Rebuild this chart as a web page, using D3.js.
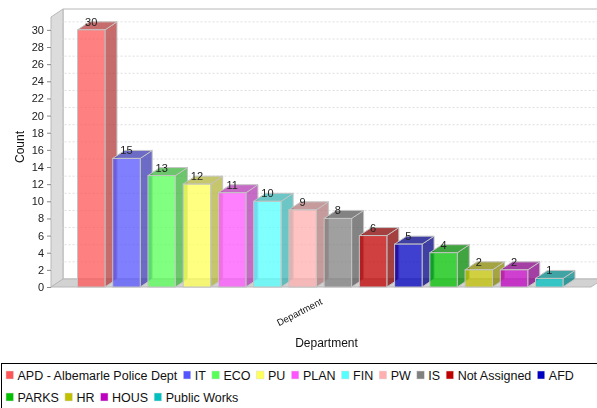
<!DOCTYPE html>
<html>
<head>
<meta charset="utf-8">
<script src="https://cdn.jsdelivr.net/npm/d3@7"></script>
<style>
  html, body { margin: 0; padding: 0; background: white; overflow: hidden; }
  svg { display: block; font-family: "Liberation Sans", Arial, sans-serif; filter: blur(0.45px); }
</style>
</head>
<body>
<script>
let departments = ["APD - Albemarle Police Dept", "IT", "ECO", "PU", "PLAN", "FIN", "PW", "IS", "Not Assigned", "AFD", "PARKS", "HR", "HOUS", "Public Works"]
let counts = [30, 15, 13, 12, 11, 10, 9, 8, 6, 5, 4, 2, 2, 1]
let colors = ["#ff5555", "#5555ff", "#55ff55", "#ffff55", "#ff55ff", "#55ffff", "#ffafaf", "#808080", "#c00000", "#0000c0", "#00c000", "#c0c000", "#c000c0", "#00c0c0"]
let yTicks = d3.range(0, 31, 2)

let width = 597
let height = 408

// 3d offset of the back wall
let depthX = 12
let depthY = 8
let plotLeft = 51
let plotRight = 591
let plotBottom = 287
let plotTop = 17

let svg = d3.select('body')
  .append('svg')
  .attr('width', width)
  .attr('height', height)

let scaleX = d3.scaleBand()
  .domain(departments)
  .range([77.5, 563])
  .paddingInner(0.22)
  .paddingOuter(0)

let scaleY = d3.scaleLinear()
  .domain([0, 31.5])
  .range([plotBottom, plotTop])

function poly(points) {
  return points.map(p => p.join(',')).join(' ')
}

function darker(c) {
  let rgb = d3.rgb(c)
  return d3.rgb(rgb.r * 0.7, rgb.g * 0.7, rgb.b * 0.7).formatHex()
}

// walls
svg.append('polygon')
  .attr('points', poly([[plotLeft + depthX, plotTop - depthY], [plotRight + depthX, plotTop - depthY], [plotRight + depthX, plotBottom - depthY], [plotLeft + depthX, plotBottom - depthY]]))
  .attr('fill', 'white')
  .attr('stroke', '#b8b8b8')

svg.append('polygon')
  .attr('points', poly([[plotLeft, plotTop], [plotLeft + depthX, plotTop - depthY], [plotLeft + depthX, plotBottom - depthY], [plotLeft, plotBottom]]))
  .attr('fill', '#dcdcdc')
  .attr('stroke', '#b8b8b8')

svg.append('polygon')
  .attr('points', poly([[plotLeft, plotBottom], [plotLeft + depthX, plotBottom - depthY], [plotRight + depthX, plotBottom - depthY], [plotRight, plotBottom]]))
  .attr('fill', '#d2d2d2')
  .attr('stroke', '#b8b8b8')

// gridlines
let grid = svg.append('g')
  .attr('fill', 'none')
  .attr('stroke', '#dedede')
  .attr('stroke-dasharray', '2,2')

grid.selectAll('polyline')
  .data(yTicks.filter(d => d > 0))
  .enter()
  .append('polyline')
  .attr('points', d => poly([[plotLeft, scaleY(d)], [plotLeft + depthX, scaleY(d) - depthY], [plotRight + depthX, scaleY(d) - depthY]]))

// bars
let bars = svg.append('g')
  .selectAll('g')
  .data(departments)
  .enter()
  .append('g')
  .attr('stroke', '#c4c4c4')
  .attr('stroke-width', 1)

bars.append('polygon')
  .attr('points', (d, i) => {
    let x1 = scaleX(d) + scaleX.bandwidth()
    let y = scaleY(counts[i])
    return poly([[x1, y], [x1 + depthX, y - depthY], [x1 + depthX, plotBottom - depthY], [x1, plotBottom]])
  })
  .attr('fill', (d, i) => darker(colors[i]))
  .attr('fill-opacity', 0.75)

bars.append('polygon')
  .attr('points', (d, i) => {
    let x0 = scaleX(d)
    let x1 = x0 + scaleX.bandwidth()
    let y = scaleY(counts[i])
    return poly([[x0, y], [x0 + depthX, y - depthY], [x1 + depthX, y - depthY], [x1, y]])
  })
  .attr('fill', (d, i) => darker(colors[i]))
  .attr('fill-opacity', 0.75)

bars.append('rect')
  .attr('x', d => scaleX(d))
  .attr('y', (d, i) => scaleY(counts[i]))
  .attr('width', scaleX.bandwidth())
  .attr('height', (d, i) => plotBottom - scaleY(counts[i]))
  .attr('fill', (d, i) => colors[i])
  .attr('fill-opacity', 0.75)

// value labels
svg.append('g')
  .selectAll('text')
  .data(departments)
  .enter()
  .append('text')
  .attr('x', d => scaleX(d) + scaleX.bandwidth() / 2)
  .attr('y', (d, i) => scaleY(counts[i]) - 4)
  .attr('text-anchor', 'middle')
  .attr('font-size', 11)
  .attr('fill', '#222')
  .text((d, i) => counts[i])

// y axis
let axisY = svg.append('g')
  .attr('transform', `translate(${plotLeft},0)`)
  .call(d3.axisLeft(scaleY).tickValues(yTicks).tickSize(4).tickPadding(3))

axisY.select('.domain').remove()
axisY.selectAll('line').attr('stroke', '#888')
axisY.selectAll('text')
  .attr('font-family', '"Liberation Sans", Arial, sans-serif')
  .attr('font-size', 11)
  .attr('fill', '#222')

// axis titles
svg.append('text')
  .attr('transform', 'translate(24,147) rotate(-90)')
  .attr('text-anchor', 'middle')
  .attr('font-size', 12)
  .attr('fill', '#111')
  .text('Count')

svg.append('text')
  .attr('x', 326.5)
  .attr('y', 347)
  .attr('text-anchor', 'middle')
  .attr('font-size', 12)
  .attr('fill', '#111')
  .text('Department')

svg.append('text')
  .attr('transform', 'translate(301,315) rotate(-27)')
  .attr('text-anchor', 'middle')
  .attr('font-size', 9.5)
  .attr('fill', '#111')
  .text('Department')

// legend
svg.append('rect')
  .attr('x', 1.5)
  .attr('y', 363.5)
  .attr('width', 620)
  .attr('height', 80)
  .attr('fill', 'white')
  .attr('stroke', 'black')

let legendRows = [departments.slice(0, 10), departments.slice(10)]
legendRows.forEach(function (row, r) {
  let x = 6
  let y = 375 + r * 22
  row.forEach(function (name) {
    let c = colors[departments.indexOf(name)]
    svg.append('rect')
      .attr('x', x)
      .attr('y', y - 4)
      .attr('width', 7.5)
      .attr('height', 8)
      .attr('fill', c)
      .attr('stroke', '#ddd')
      .attr('stroke-width', 0.5)
    let label = svg.append('text')
      .attr('x', x + 11.5)
      .attr('y', y + 4.5)
      .attr('font-size', 12.5)
      .attr('fill', '#111')
      .text(name)
    x += 11.5 + label.node().getComputedTextLength() + 6
  })
})
</script>
</body>
</html>
